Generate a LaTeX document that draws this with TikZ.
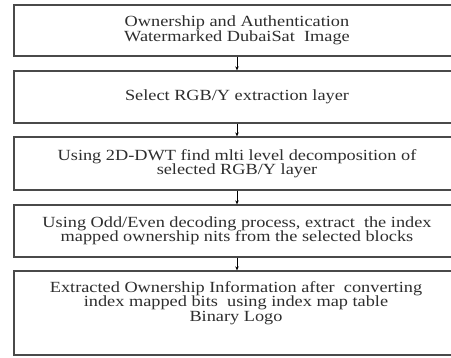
\documentclass[tikz,border=0pt]{standalone}
\usepackage{fontspec}
\setmainfont{Liberation Serif}[FakeStretch=1.18]
\usetikzlibrary{arrows.meta}
\definecolor{boxgray}{HTML}{4A4A4A}
\definecolor{txt}{HTML}{2E2E2E}
\tikzset{
  box/.style={draw=boxgray, line width=1.3pt, minimum width=446pt, inner sep=0pt, align=center, text=txt,
    font=\fontsize{15.5}{14.5}\selectfont},
  arr/.style={draw=black, line width=0.7pt, -{Stealth[length=4pt,width=3.5pt]}}
}
\begin{document}
\begin{tikzpicture}[x=1pt,y=1pt]
\useasboundingbox[fill=white] (0,0) rectangle (451,-358);
\clip (0,0) rectangle (451,-358);
\node[box, minimum height=51pt] (b1) at (237,-30.5) {Ownership and Authentication\\Watermarked DubaiSat\ \ Image};
\node[box, minimum height=52pt] (b2) at (237,-97) {Select RGB/Y extraction layer};
\node[box, minimum height=53pt] (b3) at (237,-163.5) {Using 2D-DWT find mlti level decomposition of\\selected RGB/Y layer};
\node[box, minimum height=52pt] (b4) at (237,-231) {Using Odd/Even decoding process, extract\ \ the index\\mapped ownership nits from the selected blocks};
\node[box, minimum height=84pt] (b5) at (237,-313) {};
\node[align=center, text=txt, inner sep=0pt, anchor=north, font=\fontsize{15.5}{14.5}\selectfont] (t5) at (236,-281) {Extracted Ownership Information after\ \ converting\\index mapped bits\ \ using index map table\\Binary Logo};
\draw[arr] (b1) -- (b2);
\draw[arr] (b2) -- (b3);
\draw[arr] (b3) -- (b4);
\draw[arr] (b4) -- (b5);
\end{tikzpicture}
\end{document}
